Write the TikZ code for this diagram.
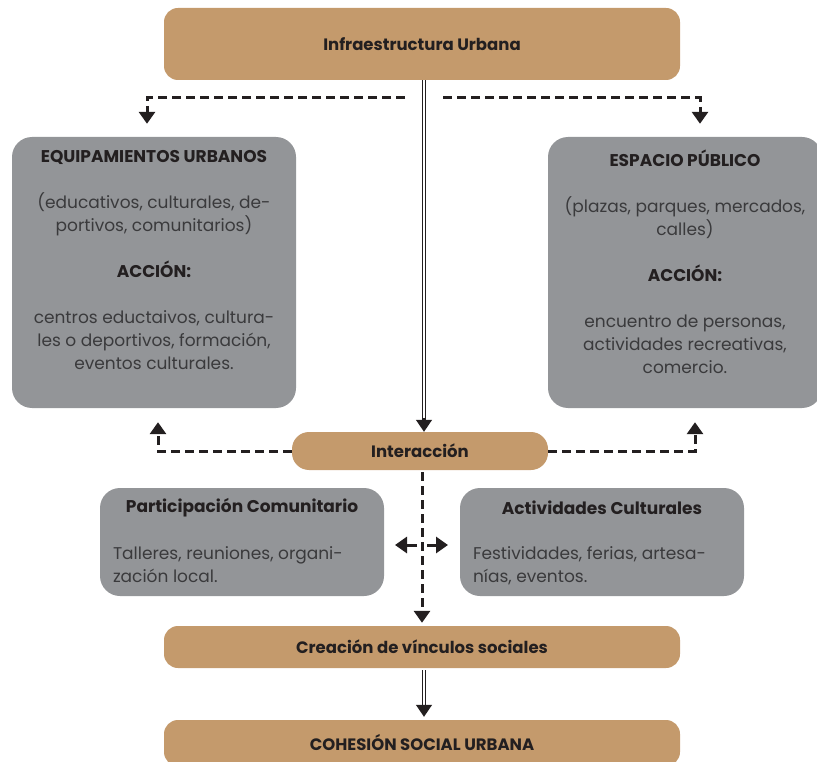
\documentclass[tikz,border=0pt]{standalone}
\usepackage{fontspec}
\setmainfont{Poppins}
\usetikzlibrary{arrows.meta}
\definecolor{tan}{HTML}{C49A6C}
\definecolor{boxgray}{HTML}{939598}
\definecolor{ink}{HTML}{231F20}
\definecolor{softink}{HTML}{3A3A3C}

\begin{document}
\begin{tikzpicture}[x=1pt,y=-1pt,
  tanbox/.style={fill=tan,rounded corners=14pt,minimum width=516pt,text=ink,
    font=\bfseries\fontsize{16.5}{20}\selectfont},
  graybox/.style={fill=boxgray,rounded corners=20pt},
  boxtext/.style={align=center,text=softink,inner sep=0pt,
    font=\fontsize{17}{23}\selectfont},
  headtext/.style={text=ink,inner sep=0pt,font=\bfseries\fontsize{17}{20}\selectfont},
  dasharrow/.style={line width=3pt,dash pattern=on 9pt off 5pt,ink,
    -{Triangle[width=16pt,length=12pt]}},
  dblline/.style={double=white,double distance=2pt,line width=1.3pt,ink},
  tip/.style={ink,line width=1.3pt,-{Triangle[width=16pt,length=12pt]}}]
\useasboundingbox (0,0) rectangle (817,762);

\node[tanbox,minimum height=72pt] at (422,44) (infra) {Infraestructura Urbana};

\node[graybox,minimum width=284pt,minimum height=271pt] at (154,272.5) (equip) {};
\node[boxtext,anchor=north] at ([yshift=-13pt]equip.north) (equiptxt)
  {{\bfseries\color{ink}EQUIPAMIENTOS URBANOS}\\[23pt]
   (educativos, culturales, de-\\portivos, comunitarios)\\[23pt]
   {\bfseries\color{ink}ACCIÓN:}\\[23pt]
   centros eductaivos, cultura-\\les o deportivos, formación,\\eventos culturales.};

\node[graybox,minimum width=274pt,minimum height=271pt] at (685,272.5) (espacio) {};
\node[boxtext,anchor=north] at ([yshift=-13pt]espacio.north) (espaciotxt)
  {{\bfseries\color{ink}ESPACIO PÚBLICO}\\[23pt]
   (plazas, parques, mercados,\\calles)\\[23pt]
   {\bfseries\color{ink}ACCIÓN:}\\[23pt]
   encuentro de personas,\\actividades recreativas,\\comercio.};

\node[tanbox,minimum width=256pt,minimum height=38pt,rounded corners=17pt] at (420,451) (inter) {Interacción};

\node[graybox,minimum width=284pt,minimum height=108pt] at (242,542) (partic) {};
\node[headtext] at ([yshift=-20pt]partic.north) (partictit) {Participación Comunitario};
\node[boxtext,align=left,anchor=north west] at ([xshift=13pt,yshift=-59pt]partic.north west) (partictxt)
  {Talleres, reuniones, organi-\\zación local.};

\node[graybox,minimum width=284pt,minimum height=108pt] at (602,542) (activ) {};
\node[headtext] at ([yshift=-20pt]activ.north) (activtit) {Actividades Culturales};
\node[boxtext,align=left,anchor=north west] at ([xshift=13pt,yshift=-59pt]activ.north west) (activtxt)
  {Festividades, ferias, artesa-\\nías, eventos.};

\node[tanbox,minimum height=42pt] at (422,647) (vinculos) {Creación de vínculos sociales};
\node[tanbox,minimum height=46pt] at (422,743) (cohesion) {COHESIÓN SOCIAL URBANA};

% double line down to interaccion
\coordinate (dblend) at ([yshift=12pt]inter.north -| 424,0);
\draw[dblline] (infra.south -| dblend) -- (dblend);
\draw[tip] ([yshift=2pt]dblend) -- (inter.north -| dblend);

% split to both boxes
\coordinate (splitL) at (405,98);
\coordinate (splitR) at (443,98);
\draw[dasharrow] (splitL) -| ([xshift=-7pt,yshift=13pt]equip.north);
\draw[dasharrow] (splitR) -| ([xshift=15pt,yshift=13pt]espacio.north);

% back up from interaccion
\draw[dasharrow] (inter.west) -| ([xshift=4pt,yshift=-14pt]equip.south);
\draw[dasharrow] (inter.east) -| ([xshift=10pt,yshift=-14pt]espacio.south);

% down to vinculos
\coordinate (cross) at (422,545);
\draw[dasharrow] ([yshift=-2pt]inter.south -| cross) -- ([yshift=3pt]vinculos.north -| cross);
\draw[tip,line width=3pt] ([xshift=-5pt]cross) -- ([xshift=-27pt]cross);
\draw[tip,line width=3pt] ([xshift=5pt]cross) -- ([xshift=26pt]cross);

\coordinate (dblend2) at ([yshift=12pt]cohesion.north -| 424,0);
\draw[dblline] ([yshift=-2pt]vinculos.south -| dblend2) -- (dblend2);
\draw[tip] ([yshift=2pt]dblend2) -- ([yshift=3pt]cohesion.north -| dblend2);
\end{tikzpicture}
\end{document}
